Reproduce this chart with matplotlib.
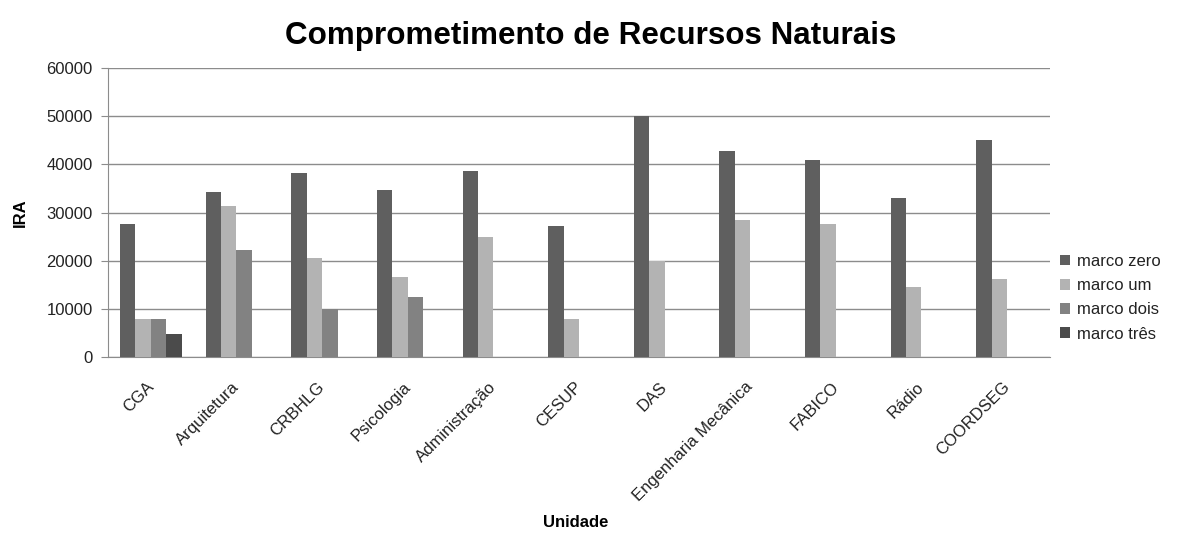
import numpy as np
import matplotlib
matplotlib.use("Agg")
import matplotlib.pyplot as plt
import matplotlib.transforms as mtransforms

plt.rcParams["font.family"] = ["Liberation Sans", "DejaVu Sans"]

# Data
unidades = ["CGA", "Arquitetura", "CRBHLG", "Psicologia", "Administração", "CESUP",
            "DAS", "Engenharia Mecânica", "FABICO", "Rádio", "COORDSEG"]
marco_zero = [27600, 34200, 38200, 34600, 38700, 27100, 50000, 42800, 41000, 33000, 45100]
marco_um = [7800, 31400, 20500, 16600, 25000, 7800, 20000, 28500, 27600, 14600, 16200]
marco_dois = [7800, 22300, 10000, 12500, 0, 0, 0, 0, 0, 0, 0]
marco_tres = [4800, 0, 0, 0, 0, 0, 0, 0, 0, 0, 0]

series = ["marco zero", "marco um", "marco dois", "marco três"]
values = [marco_zero, marco_um, marco_dois, marco_tres]
colors = ["#5f5f5f", "#b3b3b3", "#828282", "#4b4b4b"]

fig = plt.figure(figsize=(11.77, 5.38), dpi=100)
ax = fig.add_axes([0.0918, 0.3364, 0.8002, 0.5372])

x = np.arange(len(unidades))
w = 0.18
for i, (name, vals, c) in enumerate(zip(series, values, colors)):
    ax.bar(x + (i - 1.5) * w, vals, width=w, color=c, label=name, zorder=3)

ax.set_xlim(-0.5, len(unidades) - 0.5)
ax.set_ylim(0, 60000)
ax.set_yticks(range(0, 60001, 10000))
ax.yaxis.grid(True, color="#8c8c8c", linewidth=1, zorder=0)
ax.set_axisbelow(True)

for s in ["top", "right"]:
    ax.spines[s].set_visible(False)
ax.spines["left"].set_color("#8c8c8c")
ax.spines["bottom"].set_color("#8c8c8c")
ax.tick_params(axis="y", colors="#8c8c8c", labelcolor="#222222", labelsize=12,
               length=5, pad=6)
ax.tick_params(axis="x", length=0, labelsize=12, labelcolor="#222222", pad=16)

ax.set_xticks(x)
ax.set_xticklabels(unidades, rotation=45, ha="right", rotation_mode="anchor")
# nudge the rotated labels a little to the left
shift = mtransforms.ScaledTranslation(-5 / 100, 0, fig.dpi_scale_trans)
for lbl in ax.get_xticklabels():
    lbl.set_transform(lbl.get_transform() + shift)

ax.set_ylabel("IRA", fontsize=12, fontweight="bold", labelpad=13)
fig.text(0.489, 0.02, "Unidade", fontsize=12, fontweight="bold", ha="center")
fig.text(0.502, 0.918, "Comprometimento de Recursos Naturais", fontsize=22.6,
         fontweight="bold", ha="center")

leg = ax.legend(loc="center left", bbox_to_anchor=(0.995, 0.205), frameon=False,
                fontsize=12, handlelength=0.6, handleheight=0.6, handletextpad=0.4,
                labelspacing=0.55)
for t in leg.get_texts():
    t.set_color("#222222")

fig.savefig("out.png", dpi=100)
